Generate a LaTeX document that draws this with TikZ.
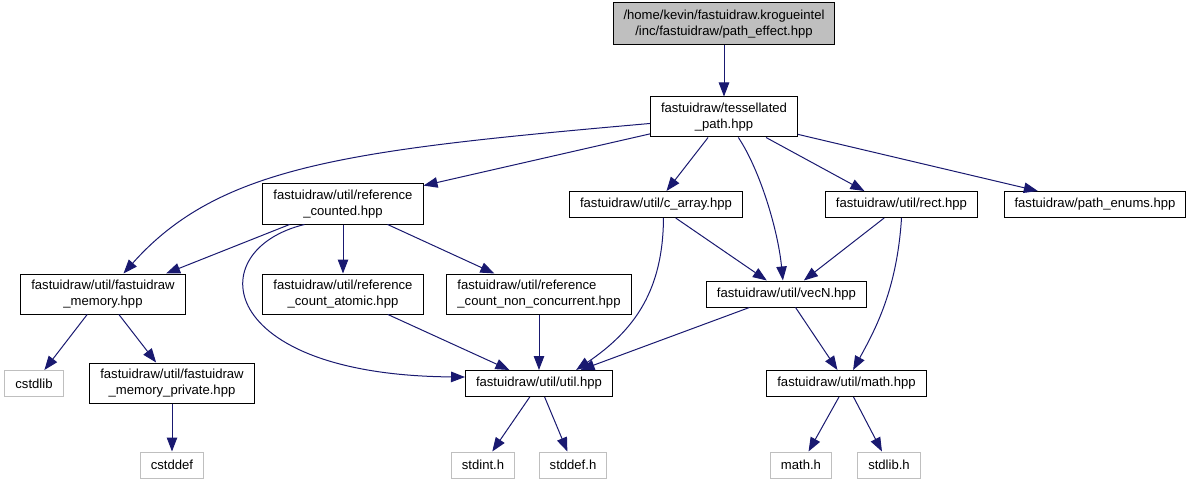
\documentclass[tikz,border=0pt]{standalone}
\usepackage{fontspec}
\setmainfont{Liberation Sans}
\usepackage{tikz}
\usetikzlibrary{arrows.meta}
\definecolor{EdgeBlue}{HTML}{191970}
\definecolor{SysGray}{HTML}{BFBFBF}
\tikzset{
  file/.style={draw=black,line width=1pt,fill=white,inner xsep=10.5pt,inner ysep=2pt,
    minimum height=26pt,align=center,font=\fontsize{13.1pt}{15.5pt}\selectfont},
  twoline/.style={minimum height=40pt},
  sysfile/.style={file,draw=SysGray},
  dep/.style={EdgeBlue,line width=1pt,-{Triangle[length=14pt,width=10.5pt]}}
}

\begin{document}
\begin{tikzpicture}[x=1pt,y=-1pt]
  \useasboundingbox (0,0) rectangle (1192,484);
  % --- top: the file itself ---
  \node[file,fill=SysGray,minimum height=42pt] (root) at (724,24)
    {/home/kevin/fastuidraw.krogueintel\\/inc/fastuidraw/path\_effect.hpp};
  \node[file,twoline] (tess) at (724,117) {fastuidraw/tessellated\\\_path.hpp};

  % --- second row ---
  \node[file,twoline] (refc) at (343,204) {fastuidraw/util/reference\\\_counted.hpp};
  \node[file] (carray) at (656,204.5) {fastuidraw/util/c\_array.hpp};
  \node[file] (rect) at (901.5,204.5) {fastuidraw/util/rect.hpp};
  \node[file] (penums) at (1095,204.5) {fastuidraw/path\_enums.hpp};

  % --- third row ---
  \node[file,twoline] (fmem) at (103,294) {fastuidraw/util/fastuidraw\\\_memory.hpp};
  \node[file,twoline] (rcatomic) at (343,294) {fastuidraw/util/reference\\\_count\_atomic.hpp};
  \node[file,twoline,align=left] (rcnc) at (539,294)
    {fastuidraw/util/reference\\\_count\_non\_concurrent.hpp};
  \node[file] (vecN) at (786.5,294) {fastuidraw/util/vecN.hpp};

  % --- fourth row ---
  \node[sysfile] (cstdlib) at (34,383.5) {cstdlib};
  \node[file,twoline] (fmemp) at (172,383) {fastuidraw/util/fastuidraw\\\_memory\_private.hpp};
  \node[file] (util) at (539,383.5) {fastuidraw/util/util.hpp};
  \node[file] (math) at (846.5,383.5) {fastuidraw/util/math.hpp};

  % --- system headers ---
  \node[sysfile] (cstddef) at (172,465) {cstddef};
  \node[sysfile] (stdint) at (483,465) {stdint.h};
  \node[sysfile] (stddef) at (573,465) {stddef.h};
  \node[sysfile] (mathh) at (801,465) {math.h};
  \node[sysfile] (stdlibh) at (889,465) {stdlib.h};

  % --- include edges ---
  \draw[dep] (root) -- (tess);
  \draw[dep] (tess.185) .. controls (350,150) and (220,165) .. (fmem.45);
  \draw[dep] (tess) -- (refc);
  \draw[dep] (tess) -- (carray);
  \draw[dep] (tess.-55) .. controls (760,170) and (778,230) .. (vecN.105);
  \draw[dep] (tess.-26) -- (rect.160);
  \draw[dep] (tess) -- (penums);
  \draw[dep] (refc.-159) -- (fmem.18);
  \draw[dep] (refc) -- (rcatomic);
  \draw[dep] (refc) -- (rcnc);
  \draw[dep] (refc.-152) .. controls (200,250) and (215,375) .. (util.175);
  \draw[dep] (carray.-61) .. controls (663,290) and (635,330) .. (util.20);
  \draw[dep] (carray) -- (vecN);
  \draw[dep] (rect) -- (vecN);
  \draw[dep] (rect.south) .. controls (897,290) and (875,330) .. (math.64);
  \draw[dep] (fmem) -- (cstdlib);
  \draw[dep] (fmem) -- (fmemp);
  \draw[dep] (fmemp) -- (cstddef);
  \draw[dep] (rcatomic) -- (util);
  \draw[dep] (rcnc) -- (util);
  \draw[dep] (vecN.-160) -- (util.18);
  \draw[dep] (vecN) -- (math);
  \draw[dep] (util) -- (stdint);
  \draw[dep] (util) -- (stddef);
  \draw[dep] (math) -- (mathh);
  \draw[dep] (math) -- (stdlibh);
\end{tikzpicture}
\end{document}
